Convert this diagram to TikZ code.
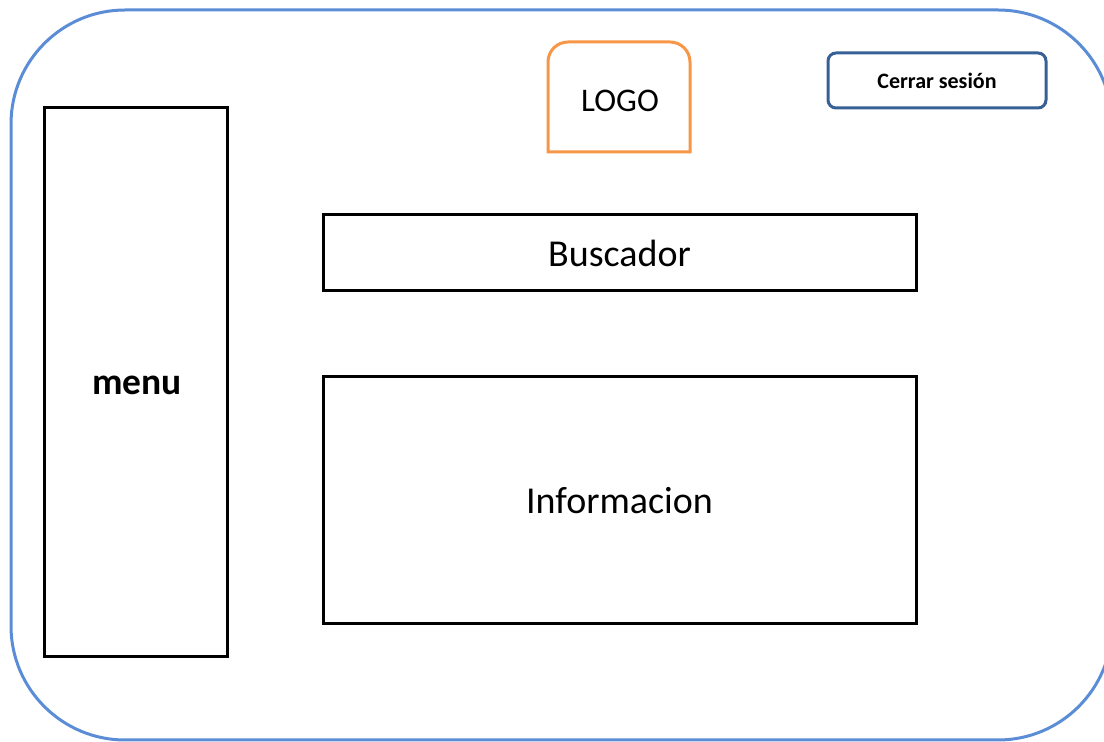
\documentclass[tikz,border=0pt]{standalone}
\usepackage{fontspec}
\setmainfont{Carlito}
\definecolor{outerblue}{RGB}{91,141,214}
\definecolor{logoorange}{RGB}{247,150,70}
\definecolor{btnblue}{RGB}{55,96,150}
\tikzset{
  box/.style={draw=black, line width=3pt, inner sep=0pt, rectangle},
  bigtext/.style={font=\fontsize{38}{40}\selectfont},
}
\begin{document}
\begin{tikzpicture}[x=1pt,y=1pt]
\useasboundingbox (0,0) rectangle (1104,742);
\clip (0,0) rectangle (1104,742);
% outer frame
\draw[outerblue, line width=3pt, rounded corners=114] (11,2) rectangle (1112,732);
% logo
\node[inner sep=0pt, outer sep=0pt, minimum width=142pt, minimum height=110pt] (logo) at (619,645) {};
\draw[logoorange, line width=3pt] (logo.south west) -- ++(0,90) arc[start angle=180,end angle=90,radius=20]
  -- ++(102,0) arc[start angle=90,end angle=0,radius=20] -- (logo.south east) -- cycle;
\node[font=\fontsize{33}{35}\selectfont] (logotext) at (620,641) {LOGO};
% cerrar sesion
\node[draw=btnblue, line width=3pt, rounded corners=8pt, inner sep=0pt, minimum width=218pt, minimum height=55pt,
  font=\fontsize{22}{24}\selectfont\bfseries] (cerrar) at (937,661.5) {Cerrar sesión};
% menu
\node[box, minimum width=183pt, minimum height=549pt] (menu) at (135.5,359.5) {};
\node[font=\fontsize{37.5}{40}\selectfont\bfseries] (menutext) at (137,357) {menu};
% buscador
\node[box, minimum width=593pt, minimum height=76pt, bigtext] (busc) at (619.5,489) {Buscador};
% informacion
\node[box, minimum width=593pt, minimum height=247pt, bigtext] (info) at (619.5,241.5) {Informacion};
\end{tikzpicture}
\end{document}
